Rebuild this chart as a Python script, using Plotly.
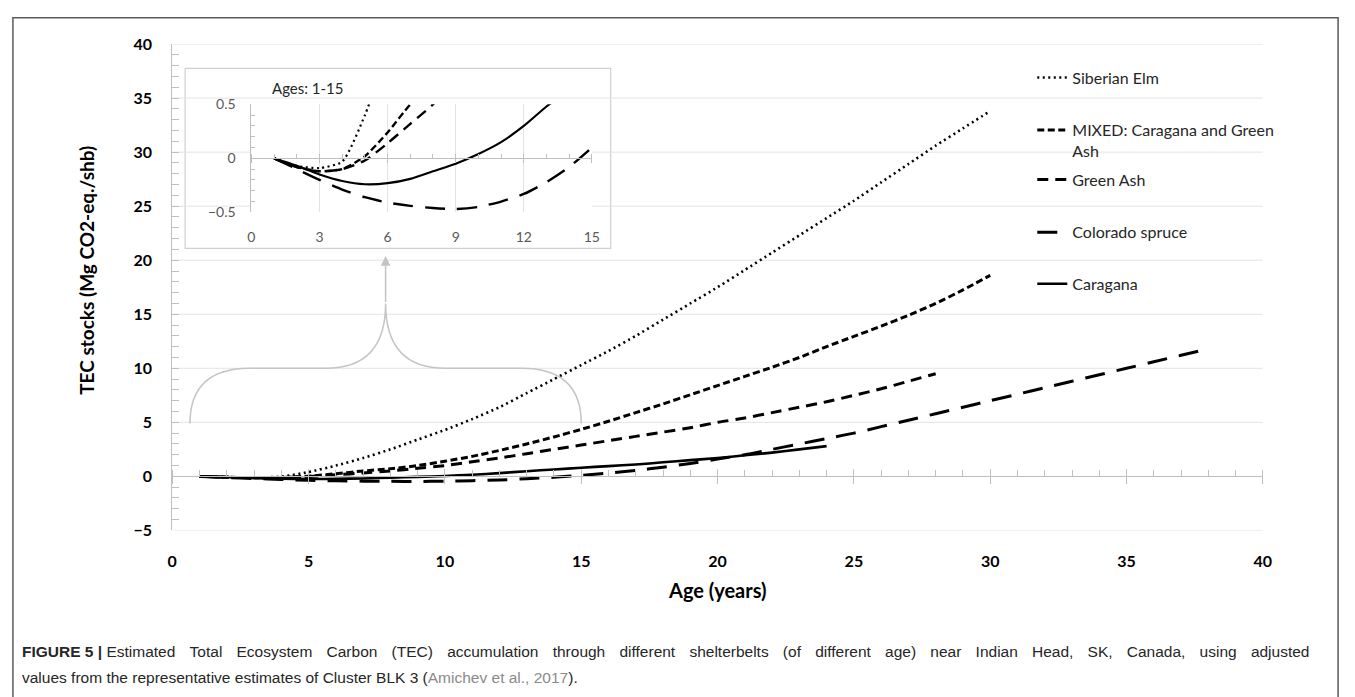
import plotly.graph_objects as go

W, H = 1355, 697

# ---------------- data ----------------
years_elm = list(range(1, 31))
elm = [0, -0.07, -0.09, -0.03, 0.4, 1.0, 1.7, 2.5, 3.4, 4.3, 5.3, 6.4, 7.7, 9.0, 10.3,
       11.6, 13.0, 14.5, 16.0, 17.5, 19.1, 20.7, 22.3, 23.9, 25.5, 27.2, 28.9, 30.6, 32.2, 33.8]

years_mixed = list(range(1, 31))
mixed = [0, -0.08, -0.12, -0.1, 0.02, 0.24, 0.5, 0.7, 1.0, 1.4, 1.85, 2.4, 3.0, 3.65, 4.35,
         5.1, 5.9, 6.7, 7.55, 8.4, 9.25, 10.1, 11.0, 12.0, 12.95, 13.9, 14.9, 16.0, 17.25, 18.6]

years_ash = list(range(1, 29))
green_ash = [0, -0.08, -0.12, -0.1, -0.02, 0.14, 0.32, 0.5, 0.75, 1.0, 1.35, 1.7, 2.1, 2.5,
             2.9, 3.3, 3.7, 4.1, 4.5, 5.0, 5.4, 5.9, 6.4, 6.9, 7.5, 8.1, 8.8, 9.5]

years_spruce = list(range(1, 39))
spruce = [0, -0.1, -0.2, -0.29, -0.36, -0.41, -0.44, -0.46, -0.47, -0.45, -0.4, -0.33, -0.22,
          -0.08, 0.1, 0.3, 0.55, 0.85, 1.2, 1.6, 2.0, 2.5, 3.0, 3.5, 4.0, 4.6, 5.2, 5.8, 6.4,
          7.0, 7.6, 8.2, 8.8, 9.4, 10.0, 10.6, 11.2, 11.8]

years_car = list(range(1, 25))
caragana = [0, -0.07, -0.15, -0.21, -0.24, -0.23, -0.19, -0.12, -0.05, 0.04, 0.15, 0.3, 0.48,
            0.64, 0.8, 0.95, 1.1, 1.3, 1.5, 1.7, 1.95, 2.2, 2.5, 2.8]

series_names = ["Siberian Elm", "MIXED: Caragana and Green<br>Ash", "Green Ash",
                "Colorado spruce", "Caragana"]
series_x = [years_elm, years_mixed, years_ash, years_spruce, years_car]
series_y = [elm, mixed, green_ash, spruce, caragana]

main_xticks = [0, 5, 10, 15, 20, 25, 30, 35, 40]
main_yticks = [-5, 0, 5, 10, 15, 20, 25, 30, 35, 40]
inset_xticks = [0, 3, 6, 9, 12, 15]
inset_yticks = [-0.5, 0, 0.5]
inset_max_age = 15

caption_line1_bold = "FIGURE 5 |"
caption_line1 = ("Estimated Total Ecosystem Carbon (TEC) accumulation through different shelterbelts "
                 "(of different age) near Indian Head, SK, Canada, using adjusted")
caption_line2 = "values from the representative estimates of Cluster BLK 3"
caption_ref = "Amichev et al., 2017"

# ---------------- styles ----------------
dashes = ["2px,3.5px", "7px,3.5px", "11px,7px", "20px,12px", "solid"]
main_widths = [2.6, 3, 3, 3, 2.6]
inset_widths = [2.2, 2.4, 2.4, 2.4, 2.2]
FONT = "Lato, 'Open Sans', sans-serif"
CAP_FONT = "'Liberation Sans Narrow', 'Liberation Sans', Arial, sans-serif"
AXIS_GRAY = "#bfbfbf"
GRID_GRAY = "#e3e3e3"
legend_centers = [68, 122, 173, 227, 280]   # pixel rows of legend entries


def px_x(p):
    return p / W


def px_y(p):
    return 1 - p / H


# main plot area in pixels
MX0, MX1, MY0, MY1 = 169, 1271, 35, 535
# inset plot area in pixels
IX0, IX1, IY0, IY1 = 249, 593, 97, 208

main_xdom = [px_x(MX0), px_x(MX1)]
main_ydom = [px_y(MY1), px_y(MY0)]
in_xdom = [px_x(IX0), px_x(IX1)]
in_ydom = [px_y(IY1), px_y(IY0)]

main_xr = [0, 40]
main_yr = [-5, 40]
in_xr = [0, 15]
in_yr = [-0.5, 0.5]
zero_main = main_ydom[0] + (0 - main_yr[0]) / (main_yr[1] - main_yr[0]) * (main_ydom[1] - main_ydom[0])
zero_in = in_ydom[0] + (0 - in_yr[0]) / (in_yr[1] - in_yr[0]) * (in_ydom[1] - in_ydom[0])

fig = go.Figure()

legend_ids = ["legend", "legend2", "legend3", "legend4", "legend5"]
for i, (nm, xs, ys) in enumerate(zip(series_names, series_x, series_y)):
    fig.add_trace(go.Scatter(
        x=xs, y=ys, mode="lines", name=nm, legend=legend_ids[i],
        line=dict(color="black", width=main_widths[i], dash=dashes[i], shape="spline", smoothing=0.6),
        xaxis="x", yaxis="y", hoverinfo="skip"))

for i, (nm, xs, ys) in enumerate(zip(series_names, series_x, series_y)):
    xi = [a for a in xs if a <= inset_max_age]
    yi = ys[:len(xi)]
    fig.add_trace(go.Scatter(
        x=xi, y=yi, mode="lines", showlegend=False,
        line=dict(color="black", width=inset_widths[i], dash=dashes[i], shape="spline", smoothing=0.6),
        xaxis="x2", yaxis="y2", hoverinfo="skip"))

# dummy traces so the overlay axes are drawn
for xa, ya in [("x3", "y"), ("x4", "y"), ("x5", "y2")]:
    fig.add_trace(go.Scatter(x=[None], y=[None], xaxis=xa, yaxis=ya, showlegend=False, hoverinfo="skip"))

tick_font = dict(family=FONT, size=16, color="black", weight="bold")
in_tick_font = dict(family=FONT, size=14, color="#595959")

legends = {}
for i, lid in enumerate(legend_ids):
    legends[lid] = dict(x=px_x(1038), y=px_y(legend_centers[i] - 16), xanchor="left", yanchor="top",
                        bgcolor="rgba(0,0,0,0)", font=dict(family=FONT, size=16, color="#262626"),
                        valign="top", tracegroupgap=0)

fig.update_layout(
    width=W, height=H, autosize=False,
    margin=dict(l=0, r=0, t=0, b=0),
    paper_bgcolor="white", plot_bgcolor="white",
    font=dict(family=FONT, color="black"),
    showlegend=True,
    **legends,
    xaxis=dict(domain=main_xdom, range=main_xr, tickvals=main_xticks, showgrid=False,
               zeroline=False, showline=False, ticks="outside", ticklen=16,
               tickcolor="rgba(0,0,0,0)", tickfont=tick_font, anchor="y"),
    yaxis=dict(domain=main_ydom, range=main_yr, tickvals=main_yticks, showgrid=False,
               zeroline=False, showline=True,
               linecolor=AXIS_GRAY, linewidth=1, ticks="inside", ticklen=7, tickcolor=AXIS_GRAY,
               minor=dict(dtick=1, ticks="inside", ticklen=7, tickcolor=AXIS_GRAY, showgrid=False),
               tickfont=tick_font, ticklabelstandoff=16, anchor="x"),
    xaxis3=dict(domain=main_xdom, range=main_xr, overlaying="x", anchor="free", position=zero_main,
                showline=True, linecolor=AXIS_GRAY, linewidth=1.2, showgrid=False, zeroline=False,
                tickvals=main_xticks, showticklabels=False, ticks="outside", ticklen=7,
                tickcolor=AXIS_GRAY,
                minor=dict(dtick=1, ticks="inside", ticklen=6, tickcolor=AXIS_GRAY, showgrid=False)),
    xaxis4=dict(domain=main_xdom, range=main_xr, overlaying="x", anchor="free", position=zero_main,
                showline=False, showgrid=False, zeroline=False, tickvals=main_xticks,
                showticklabels=False, ticks="inside", ticklen=7, tickcolor=AXIS_GRAY),
    xaxis2=dict(domain=in_xdom, range=in_xr, tickvals=inset_xticks, showgrid=True,
                gridcolor=GRID_GRAY, zeroline=False, showline=False, ticks="outside", ticklen=12,
                tickcolor="rgba(0,0,0,0)", tickfont=in_tick_font, anchor="y2"),
    yaxis2=dict(domain=in_ydom, range=in_yr, tickvals=inset_yticks, showgrid=False,
                zeroline=False, showline=True, linecolor=AXIS_GRAY, linewidth=1,
                ticks="inside", ticklen=4, tickcolor=AXIS_GRAY,
                minor=dict(dtick=0.1, ticks="inside", ticklen=4, tickcolor=AXIS_GRAY, showgrid=False),
                tickfont=in_tick_font, ticklabelstandoff=12, anchor="x2"),
    xaxis5=dict(domain=in_xdom, range=in_xr, overlaying="x2", anchor="free", position=zero_in,
                showline=True, linecolor=AXIS_GRAY, linewidth=1.2, showgrid=False, zeroline=False,
                tickvals=inset_xticks, showticklabels=False, ticks="outside", ticklen=4,
                tickcolor=AXIS_GRAY,
                minor=dict(dtick=1, ticks="inside", ticklen=4, tickcolor=AXIS_GRAY, showgrid=False)),
)

# horizontal gridlines of the main chart (drawn as shapes so the inset box can hide them)
for v in main_yticks:
    fig.add_shape(type="line", xref="x", yref="y", x0=main_xr[0], x1=main_xr[1], y0=v, y1=v,
                  line=dict(color=GRID_GRAY, width=1), layer="below")

# inset white box
bx0, bx1, by0, by1 = 182, 612, 60, 245
fig.add_shape(type="rect", xref="x domain", yref="y domain",
              x0=(bx0 - MX0) / (MX1 - MX0), x1=(bx1 - MX0) / (MX1 - MX0),
              y0=(MY1 - by1) / (MY1 - MY0), y1=(MY1 - by0) / (MY1 - MY0),
              fillcolor="white", line=dict(color="#d0d0d0", width=1.2), layer="below")

# curly bracket pointing to the inset (data coordinates of main axes)
b_x0, b_x1, b_y0, b_top, b_pk = 0.65, 15.0, 4.9, 10.0, 16.0
b_xm = (b_x0 + b_x1) / 2
d = 2.2
path = (f"M {b_x0},{b_y0} Q {b_x0},{b_top} {b_x0 + d},{b_top} L {b_xm - d},{b_top} "
        f"Q {b_xm},{b_top} {b_xm},{b_pk} Q {b_xm},{b_top} {b_xm + d},{b_top} "
        f"L {b_x1 - d},{b_top} Q {b_x1},{b_top} {b_x1},{b_y0}")
fig.add_shape(type="path", xref="x", yref="y", path=path,
              line=dict(color="#c4c4c4", width=1.5), layer="above")
fig.add_annotation(x=b_xm, y=20.4, ax=b_xm, ay=b_pk, xref="x", yref="y", axref="x", ayref="y",
                   text="", showarrow=True, arrowhead=2, arrowsize=1.3, arrowwidth=1.5,
                   arrowcolor="#c4c4c4")

# outer frame
fig.add_shape(type="rect", xref="paper", yref="paper", x0=px_x(8), x1=px_x(1347),
              y0=-0.05, y1=px_y(8), line=dict(color="#5a5a5a", width=1.5), layer="above")

# texts
fig.add_annotation(x=px_x(268), y=px_y(80), xref="paper", yref="paper", xanchor="left",
                   yanchor="middle", showarrow=False, text="Ages: 1-15",
                   font=dict(family=FONT, size=15, color="#262626"))
fig.add_annotation(x=px_x(720), y=px_y(596), xref="paper", yref="paper", showarrow=False,
                   xanchor="center", yanchor="middle",
                   text="<b>Age (years)</b>", font=dict(family=FONT, size=20, color="black"))
fig.add_annotation(x=px_x(83), y=px_y(268), xref="paper", yref="paper", showarrow=False,
                   xanchor="center", yanchor="middle",
                   textangle=-90, text="<b>TEC stocks (Mg CO2-eq./shb)</b>",
                   font=dict(family=FONT, size=19, color="black"))

# caption: first line justified by widening the word gaps
gap = " \u00a0\u00a0\u200a"
line1 = f"<b>{caption_line1_bold}</b> " + gap.join(caption_line1.split(" "))
line2 = f"{caption_line2} (<span style='color:#8a8a8a'>{caption_ref}</span>)."
fig.add_annotation(x=px_x(15), y=px_y(659), xref="paper", yref="paper", xanchor="left",
                   yanchor="middle", showarrow=False, align="left", text=line1,
                   font=dict(family=CAP_FONT, size=15.5, color="#262626"))
fig.add_annotation(x=px_x(15), y=px_y(686), xref="paper", yref="paper", xanchor="left",
                   yanchor="middle", showarrow=False, align="left", text=line2,
                   font=dict(family=CAP_FONT, size=15.5, color="#262626"))

fig.write_html("out.html")
